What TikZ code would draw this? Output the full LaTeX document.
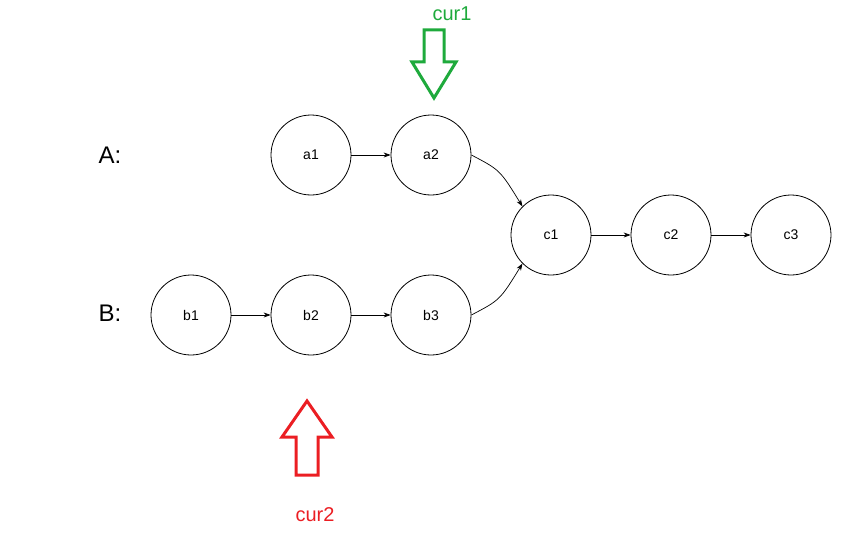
\documentclass[tikz,border=0pt]{standalone}
\usepackage{fontspec}
\setmainfont{Liberation Sans}
\usetikzlibrary{arrows.meta}
\definecolor{gr}{RGB}{30,170,60}
\definecolor{rd}{RGB}{235,30,35}
\begin{document}
\begin{tikzpicture}[x=1pt,y=-1pt,
  nd/.style={draw,circle,minimum size=80pt,inner sep=0pt,font=\fontsize{14}{16}\selectfont,line width=0.8pt},
  ar/.style={-{Stealth[length=7pt,width=5pt]},line width=0.7pt},
  lab/.style={font=\fontsize{24}{28}\selectfont}]
\useasboundingbox (0,0) rectangle (854,543);
\node[nd] (a1) at (311,155) {a1};
\node[nd] (a2) at (431,155) {a2};
\node[nd] (c1) at (551,235) {c1};
\node[nd] (c2) at (671,235) {c2};
\node[nd] (c3) at (791,235) {c3};
\node[nd] (b1) at (191,315) {b1};
\node[nd] (b2) at (311,315) {b2};
\node[nd] (b3) at (431,315) {b3};
\node[lab] (A) at (110,155) {A:};
\node[lab] (B) at (110,313) {B:};
\draw[ar] (a1) -- (a2);
\draw[ar] (c1) -- (c2);
\draw[ar] (c2) -- (c3);
\draw[ar] (b1) -- (b2);
\draw[ar] (b2) -- (b3);
\draw[ar] (a2.east) .. controls (500,170) .. (c1.north west);
\draw[ar] (b3.east) .. controls (500,300) .. (c1.south west);
\draw[gr,line width=3pt,line join=miter] (424,30) -- (444,30) -- (444,62) -- (456,62) -- (434,98) -- (412,62) -- (424,62) -- cycle;
\node[gr,font=\fontsize{20}{24}\selectfont] (cur1) at (452,14) {cur1};
\draw[rd,line width=3pt,line join=miter] (296,475) -- (318,475) -- (318,437) -- (332,437) -- (307,401) -- (282,437) -- (296,437) -- cycle;
\node[rd,font=\fontsize{20}{24}\selectfont] (cur2) at (315,515) {cur2};
\end{tikzpicture}
\end{document}
